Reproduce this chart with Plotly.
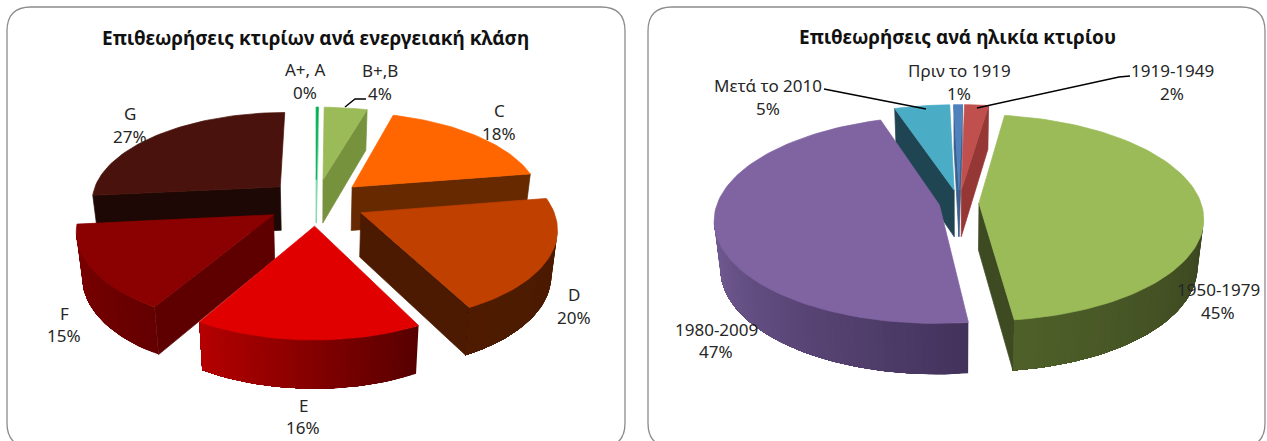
import math
import plotly.graph_objects as go

# ---- data ----
energy_title = "Επιθεωρήσεις κτιρίων ανά ενεργειακή κλάση"
energy_classes = ["A+, A", "B+,B", "C", "D", "E", "F", "G"]
energy_values = [0.2, 4.3, 18, 20, 16, 15, 26.6]

age_title = "Επιθεωρήσεις ανά ηλικία κτιρίου"
age_groups = ["Πριν το 1919", "1919-1949", "1950-1979", "1980-2009", "Μετά το 2010"]
age_values = [0.7, 2, 45.4, 46.6, 4.6]

# ---- styles ----
energy_top = ["#00B050", "#9BBB59", "#FF6600", "#C04000", "#E00000", "#8B0000", "#4A120C"]
energy_face = ["#7FD8A8", "#76923C", "#662900", "#4C1A00", "#5A0000", "#5E0000", "#1E0805"]
energy_arc = [("#00B050", "#00B050"), ("#76923C", "#76923C"), ("#662900", "#662900"),
              ("#4E1B00", "#4A1A00"), ("#B40000", "#580000"), ("#7E0000", "#640000"), ("#1E0805", "#1E0805")]
energy_pull = [0.26] * 7

age_top = ["#4F81BD", "#C0504D", "#9BBB59", "#8064A2", "#4BACC6"]
age_face = ["#3A5F8C", "#953735", "#3E4A22", "#40305A", "#1F4452"]
age_arc = [("#3A5F8C", "#3A5F8C"), ("#953735", "#953735"), ("#4F6029", "#3A4520"),
           ("#745C95", "#43335C"), ("#1F4452", "#1F4452")]
age_pull = [0.13, 0.13, 0.09, 0.09, 0.13]

energy_view = dict(cx=316, cy=202, a=190, b=89.3, k=0.1465, depth=44, squeeze=0.975, rot=0)
age_view = dict(cx=959, cy=203, a=222, b=101, k=0.142, depth=47, squeeze=0.975, rot=-1.5)

energy_label_pos = [(305, 69, 92), (380, 70, 93), (499, 110, 133), (574, 294, 317),
                    (303, 405, 427), (64, 313, 335), (130, 113, 136)]
age_label_pos = [(959, 70, 93), (1172, 70, 93), (1218, 289, 312), (716, 329, 351), (768, 85, 108)]

energy_leaders = [[(345, 107), (355, 99), (366, 99)]]
age_leaders = [[(824, 89), (926, 109)], [(1130, 76), (1119, 77), (977, 108)]]

TEXT = "#262626"
FONT = "Noto Sans"
MIN_FACE_RUN = 10
THIN_SPAN = 0.1


def mix(c1, c2, t):
    a = [int(c1[i:i + 2], 16) for i in (1, 3, 5)]
    b = [int(c2[i:i + 2], 16) for i in (1, 3, 5)]
    return "#%02x%02x%02x" % tuple(round(p + (q - p) * t) for p, q in zip(a, b))


def project(u, v, view, low=False):
    s = 1 / (1 + view["k"] * v)
    dx = view["a"] * u * s
    dy = -view["b"] * v * s
    if low:
        return view["cx"] + dx * view["squeeze"], view["cy"] + dy + view["depth"] * s ** 0.5
    return view["cx"] + dx, view["cy"] + dy


def poly(fig, pts, color, edge=0.7):
    xs = [p[0] for p in pts] + [pts[0][0]]
    ys = [p[1] for p in pts] + [pts[0][1]]
    fig.add_trace(go.Scatter(x=xs, y=ys, mode="lines", fill="toself", fillcolor=color,
                             line=dict(color=color, width=edge), hoverinfo="skip", showlegend=False))


def draw_pie(fig, values, top, face, arc, pull, view):
    total = sum(values)
    slices = []
    start = 0.0
    rot = math.radians(view["rot"])
    for i, val in enumerate(values):
        t0 = start / total * 2 * math.pi + rot
        t1 = (start + val) / total * 2 * math.pi + rot
        start += val
        slices.append((i, t0, t1))
    slices.sort(key=lambda s: -math.cos((s[1] + s[2]) / 2))
    for i, t0, t1 in slices:
        tm = (t0 + t1) / 2
        ox, oy = pull[i] * math.sin(tm), pull[i] * math.cos(tm)
        n = max(2, int((t1 - t0) / 0.03))
        rim = [(ox + math.sin(t0 + (t1 - t0) * j / n), oy + math.cos(t0 + (t1 - t0) * j / n))
               for j in range(n + 1)]
        tip = (ox, oy)
        # clockwise outline: tip -> rim -> tip; edges running leftwards on screen face the viewer
        thin = t1 - t0 < THIN_SPAN
        for p, q in [(tip, rim[0]), (rim[-1], tip)]:
            a, b = project(*p, view), project(*q, view)
            if thin or b[0] < a[0] - MIN_FACE_RUN:
                poly(fig, [a, b, project(*q, view, True), project(*p, view, True)], face[i])
        vis = [j for j in range(n) if project(*rim[j + 1], view)[0] < project(*rim[j], view)[0]]
        # each band covers the rest of the wall, so later bands paint over without seams
        for idx, j in enumerate(vis):
            band = rim[j:vis[-1] + 2]
            shade = mix(arc[i][1], arc[i][0], idx / max(1, len(vis) - 1))
            poly(fig, [project(*r, view) for r in band] +
                 [project(*r, view, True) for r in reversed(band)], shade, edge=0)
        poly(fig, [project(*tip, view)] + [project(*r, view) for r in rim], top[i])


def panel_path(x0, y0, x1, y1, r):
    return (f"M {x0+r} {y0} L {x1-r} {y0} Q {x1} {y0} {x1} {y0+r} L {x1} {y1-r} Q {x1} {y1} {x1-r} {y1} "
            f"L {x0+r} {y1} Q {x0} {y1} {x0} {y1-r} L {x0} {y0+r} Q {x0} {y0} {x0+r} {y0} Z")


fig = go.Figure()
draw_pie(fig, energy_values, energy_top, energy_face, energy_arc, energy_pull, energy_view)
draw_pie(fig, age_values, age_top, age_face, age_arc, age_pull, age_view)

for line in energy_leaders + age_leaders:
    fig.add_trace(go.Scatter(x=[p[0] for p in line], y=[p[1] for p in line], mode="lines",
                             line=dict(color="#000000", width=1.4), hoverinfo="skip", showlegend=False))

annotations = []


def label(x, y, text, size=17, bold=False, color=TEXT):
    annotations.append(dict(x=x, y=y, xref="x", yref="y", text=f"<b>{text}</b>" if bold else text,
                            showarrow=False, xanchor="center", yanchor="middle",
                            font=dict(family=FONT, size=size, color=color)))


for names, vals, pos in [(energy_classes, energy_values, energy_label_pos),
                         (age_groups, age_values, age_label_pos)]:
    for name, val, (x, y1, y2) in zip(names, vals, pos):
        label(x, y1, name)
        label(x, y2, f"{round(val)}%")

label(315, 38, energy_title, size=19, bold=True, color="#111111")
label(957, 37, age_title, size=19, bold=True, color="#111111")

fig.update_layout(
    width=1267, height=441, margin=dict(l=0, r=0, t=0, b=0),
    paper_bgcolor="white", plot_bgcolor="white", showlegend=False,
    xaxis=dict(range=[0, 1267], visible=False, fixedrange=True),
    yaxis=dict(range=[441, 0], visible=False, fixedrange=True),
    annotations=annotations,
    shapes=[dict(type="path", path=panel_path(7, 7, 625, 447, 24), xref="x", yref="y",
                 line=dict(color="#8C8C8C", width=1.3), layer="below"),
            dict(type="path", path=panel_path(648, 7, 1265, 447, 24), xref="x", yref="y",
                 line=dict(color="#8C8C8C", width=1.3), layer="below")],
)
fig.write_html("out.html", config={"displayModeBar": False},
               post_script="document.body.style.margin='0';document.body.style.overflow='hidden';")
